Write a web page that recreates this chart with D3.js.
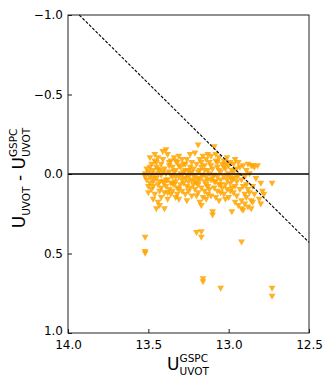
<!DOCTYPE html>
<html>
<head>
<meta charset="utf-8">
<script src="https://cdn.jsdelivr.net/npm/d3@7"></script>
<style>
  body { margin: 0; background: #fff; }
  svg text { font-family: "DejaVu Sans", sans-serif; fill: #000; }
</style>
</head>
<body>
<svg id="chartSVG"></svg>
<script>
// U_UVOT^GSPC (x) vs U_UVOT - U_UVOT^GSPC (y)
let mainCloud = [
  [13.52,0.00],[13.51,-0.03],[13.51,0.04],[13.50,0.08],[13.50,0.12],[13.49,-0.10],[13.49,0.02],[13.48,-0.06],[13.48,0.10],[13.47,0.16],
  [13.47,-0.02],[13.47,0.05],[13.46,-0.12],[13.46,0.13],[13.46,-0.08],[13.50,-0.01],[13.49,0.06],[13.48,0.00],[13.47,0.08],[13.52,0.02],
  [13.45,0.22],[13.45,-0.04],[13.45,0.03],[13.44,-0.10],[13.44,0.18],[13.44,0.07],[13.43,-0.02],[13.43,0.11],[13.42,-0.06],[13.42,0.01],
  [13.42,0.15],[13.41,-0.14],[13.41,0.05],[13.41,-0.09],[13.40,0.22],[13.40,0.12],[13.40,-0.03],[13.43,0.20],[13.44,0.00],[13.42,0.09],
  [13.39,-0.15],[13.39,0.00],[13.39,0.08],[13.38,-0.12],[13.38,0.16],[13.38,0.04],[13.37,-0.05],[13.37,0.10],[13.37,-0.01],[13.36,0.13],
  [13.36,-0.08],[13.36,0.06],[13.35,0.02],[13.35,-0.04],[13.35,0.11],[13.34,0.07],[13.34,-0.10],[13.38,0.12],[13.36,0.01],
  [13.33,-0.02],[13.33,0.15],[13.33,0.05],[13.32,-0.07],[13.32,0.09],[13.32,0.13],[13.31,-0.11],[13.31,0.02],[13.31,0.16],[13.30,-0.04],
  [13.30,0.07],[13.30,0.00],[13.29,-0.09],[13.29,0.11],[13.29,0.04],[13.28,-0.01],[13.28,0.06],[13.31,0.10],[13.33,-0.08],
  [13.27,-0.06],[13.27,0.03],[13.27,0.13],[13.26,-0.09],[13.26,0.08],[13.26,0.17],[13.25,-0.02],[13.25,0.05],[13.25,0.11],[13.24,-0.12],
  [13.24,0.00],[13.24,0.09],[13.23,-0.07],[13.23,0.04],[13.23,0.14],[13.22,-0.03],[13.22,0.07],[13.26,0.01],[13.24,-0.04],
  [13.21,-0.13],[13.21,0.02],[13.21,0.10],[13.20,-0.06],[13.20,0.06],[13.20,0.14],[13.19,-0.18],[13.19,-0.01],[13.19,0.12],[13.18,-0.09],
  [13.18,0.04],[13.18,0.18],[13.17,-0.04],[13.17,0.09],[13.17,0.20],[13.16,-0.11],[13.16,0.01],[13.16,0.15],[13.19,0.07],[13.17,-0.07],
  [13.15,-0.05],[13.15,0.05],[13.15,0.11],[13.14,-0.09],[13.14,0.02],[13.14,0.16],[13.13,-0.02],[13.13,0.08],[13.13,0.13],[13.12,-0.07],
  [13.12,0.00],[13.12,0.10],[13.11,-0.11],[13.11,0.04],[13.10,0.24],[13.10,0.26],[13.10,-0.03],[13.11,0.14],[13.13,-0.12],
  [13.09,-0.17],[13.09,0.01],[13.09,0.09],[13.08,-0.08],[13.08,0.05],[13.08,0.15],[13.07,-0.04],[13.07,0.11],[13.07,0.02],[13.06,-0.10],
  [13.06,0.07],[13.06,0.17],[13.05,-0.01],[13.05,0.04],[13.05,0.12],[13.04,-0.06],[13.04,0.09],[13.08,-0.12],
  [13.03,-0.08],[13.03,0.02],[13.03,0.13],[13.02,-0.03],[13.02,0.07],[13.02,0.16],[13.01,-0.10],[13.01,0.04],[13.01,0.10],[13.00,-0.05],
  [13.00,0.00],[13.00,0.15],[12.99,-0.07],[12.99,0.06],[12.99,0.11],[12.98,-0.02],[12.98,0.09],[12.98,0.24],
  [12.97,-0.06],[12.97,0.03],[12.97,0.12],[12.96,-0.09],[12.96,0.08],[12.96,0.18],[12.95,-0.03],[12.95,0.05],[12.95,0.14],[12.94,-0.07],
  [12.94,0.01],[12.94,0.20],[12.93,0.10],[12.93,-0.04],[12.92,0.17],[12.92,0.22],[12.92,0.04],
  [12.91,-0.05],[12.91,0.08],[12.91,0.23],[12.90,0.02],[12.90,0.13],[12.90,0.19],[12.89,-0.02],[12.89,0.07],[12.89,0.15],[12.88,-0.06],
  [12.88,0.10],[12.88,0.21],[12.87,0.00],[12.87,0.12],[12.86,-0.05],[12.86,0.17],[12.86,0.22],
  [12.85,-0.05],[12.85,0.08],[12.85,0.18],[12.84,-0.04],[12.84,0.13],[12.83,0.03],[12.82,-0.05],[12.80,0.06],[12.79,0.11],[12.78,0.13],
  [12.81,0.16],[12.80,0.19],[12.73,0.06]
];

// denser core around zero
let coreCloud = [
  [13.49,-0.04],[13.47,0.03],[13.45,-0.07],[13.43,0.05],[13.41,-0.01],[13.39,0.04],[13.37,-0.07],[13.35,0.06],[13.33,0.02],[13.31,-0.05],
  [13.29,0.01],[13.27,-0.02],[13.25,0.02],[13.23,-0.01],[13.21,0.05],[13.19,0.03],[13.17,0.01],[13.15,-0.02],[13.13,0.04],[13.11,-0.05],
  [13.09,0.05],[13.07,-0.07],[13.05,0.07],[13.03,-0.04],[13.01,0.01],[12.99,0.02],[12.97,-0.01],[12.95,0.02],[13.46,0.01],[13.44,-0.03],
  [13.40,0.06],[13.34,-0.01],[13.28,-0.06],[13.22,0.01],[13.18,-0.02],[13.14,0.07],[13.10,0.02],[13.06,-0.02],[13.02,-0.06],[12.98,0.04]
];

let outliers = [
  [13.52,0.40],[13.52,0.49],[13.52,0.50],[13.20,0.37],[13.17,0.365],[13.17,0.40],
  [12.92,0.43],[13.16,0.66],[13.16,0.68],[13.05,0.72],[12.73,0.72],[12.73,0.77]
];

// dashed limit line endpoints
let limitLine = [[13.93,-1.0],[12.5,0.43]];
let zeroLine = [[14.0,0.0],[12.5,0.0]];

let xTicks = [14.0, 13.5, 13.0, 12.5];
let xTickLabels = ['14.0', '13.5', '13.0', '12.5'];
let yTicks = [-1.0, -0.5, 0.0, 0.5, 1.0];
let yTickLabels = ['\u22121.0', '\u22120.5', '0.0', '0.5', '1.0'];

let widthSVG = 332;
let heightSVG = 385;
let margins = { top: 15, bottom: 52, left: 68, right: 23 };
let width = widthSVG - margins.left - margins.right;
let height = heightSVG - margins.top - margins.bottom;

let SVG = d3.select('svg#chartSVG')
            .attr('width', widthSVG)
            .attr('height', heightSVG);

let SVGG = SVG.append('g')
              .attr('transform', `translate(${margins.left}, ${margins.top})`);

let x = d3.scaleLinear().domain([14.0, 12.5]).range([0, width]);
let y = d3.scaleLinear().domain([-1.0, 1.0]).range([0, height]);

// markers (downward triangles)
let triangle = 'M-3.4,-2.8L3.4,-2.8L0,3.2Z';
let allPoints = mainCloud.concat(coreCloud, outliers);

SVGG.append('g')
    .selectAll('path')
    .data(allPoints)
    .enter()
    .append('path')
    .attr('d', triangle)
    .attr('transform', d => `translate(${x(d[0])}, ${y(d[1])})`)
    .style('fill', '#ffa500')
    .style('fill-opacity', 0.85);

let line = d3.line().x(d => x(d[0])).y(d => y(d[1]));

SVGG.append('path')
    .datum(zeroLine)
    .attr('d', line)
    .style('fill', 'none')
    .style('stroke', '#000')
    .style('stroke-width', 1.3);

SVGG.append('path')
    .datum(limitLine)
    .attr('d', line)
    .style('fill', 'none')
    .style('stroke', '#000')
    .style('stroke-width', 1.1)
    .style('stroke-dasharray', '3,1.6');

// axes, ticks pointing inward
let xAxis = SVGG.append('g')
    .attr('transform', `translate(0, ${height})`)
    .call(d3.axisBottom(x).tickValues(xTicks).tickFormat((d, i) => xTickLabels[i])
            .tickSizeInner(-4).tickSizeOuter(0).tickPadding(7));

let yAxis = SVGG.append('g')
    .call(d3.axisLeft(y).tickValues(yTicks).tickFormat((d, i) => yTickLabels[i])
            .tickSizeInner(-4).tickSizeOuter(0).tickPadding(5));

SVGG.selectAll('.domain').remove();
SVGG.selectAll('.tick line').style('stroke', '#000').style('stroke-width', 0.9);
SVGG.selectAll('.tick text')
    .style('font-size', '12px')
    .style('font-family', '"DejaVu Sans", sans-serif')
    .attr('fill', '#000');
// bottom y label sits a touch higher so it clears the 14.0 label
yAxis.selectAll('.tick text').filter((d, i) => i === yTicks.length - 1).attr('dy', '0.1em');

SVGG.append('rect')
    .attr('width', width)
    .attr('height', height)
    .style('fill', 'none')
    .style('stroke', '#222')
    .style('stroke-width', 1);

// label with stacked superscript / subscript
function mathLabel(g, parts) {
  let cursor = 0;
  parts.forEach(p => {
    if (p.base !== undefined) {
      let t = g.append('text').attr('x', cursor).attr('y', 0)
               .style('font-size', '17px').style('white-space', 'pre')
               .text(p.base);
      cursor += t.node().getComputedTextLength();
    }
    let w = 0;
    if (p.sup) {
      let t = g.append('text').attr('x', cursor).attr('y', -8)
               .style('font-size', '10.5px').text(p.sup);
      w = Math.max(w, t.node().getComputedTextLength());
    }
    if (p.sub) {
      let t = g.append('text').attr('x', cursor).attr('y', 4.5)
               .style('font-size', '10.5px').text(p.sub);
      w = Math.max(w, t.node().getComputedTextLength());
    }
    cursor += w;
  });
  return cursor;
}

let xLab = SVG.append('g');
let xLabW = mathLabel(xLab, [{ base: 'U', sup: 'GSPC', sub: 'UVOT' }]);
xLab.attr('transform', `translate(${188 - xLabW / 2}, 370)`);

let yLab = SVG.append('g');
let yLabW = mathLabel(yLab, [
  { base: 'U', sub: 'UVOT' },
  { base: ' - U', sup: 'GSPC', sub: 'UVOT' }
]);
yLab.attr('transform', `translate(25, ${178 + yLabW / 2}) rotate(-90)`);
</script>
</body>
</html>
